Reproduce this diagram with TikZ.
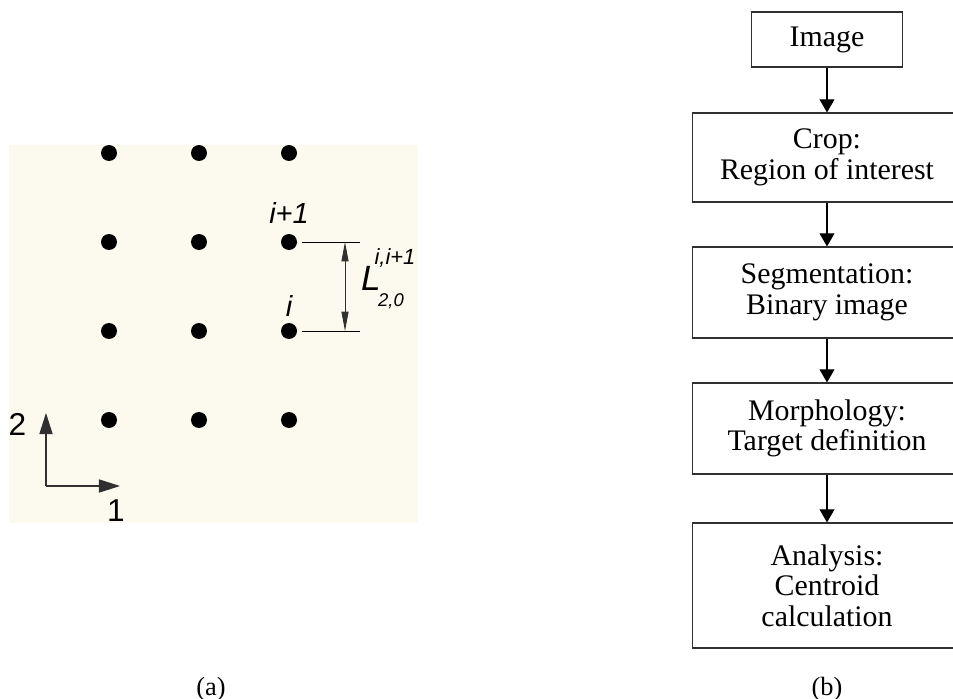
\documentclass[tikz,border=0pt]{standalone}
\usepackage{fontspec}
\setmainfont{Liberation Serif}
\setsansfont{Liberation Sans}
\usetikzlibrary{positioning,arrows.meta}
\definecolor{plateBg}{HTML}{FCFAEF}
\definecolor{lineGray}{HTML}{303030}

\begin{document}
\begin{tikzpicture}[x=0.02cm, y=-0.02cm,
    step box/.style={draw=lineGray, line width=0.6pt, align=center, inner sep=2pt, font=\fontsize{17}{17.4}\selectfont},
    flow/.style={-{Triangle[length=7.5pt, width=8.5pt]}, line width=0.6pt},
    dot/.style={circle, fill=black, inner sep=0pt, minimum size=0.32cm},
    dim/.style={{Triangle[length=11pt, width=4pt]}-{Triangle[length=11pt, width=4pt]}, line width=0.5pt, lineGray},
    axis/.style={-{Triangle[length=12pt, width=7.5pt]}, line width=0.6pt, lineGray},
    lab/.style={font=\sffamily\itshape\fontsize{16.5}{18}\selectfont, inner sep=0pt},
    caption/.style={font=\fontsize{15}{16}\selectfont, inner sep=0pt}
]
    \clip (0,0) rectangle (953,699);

    % (a) target grid
    \fill[plateBg] (9,145) rectangle (418,523);
    \foreach \c/\x in {1/109, 2/199, 3/289}
        \foreach \r/\y in {1/153, 2/242, 3/331, 4/420}
            \node[dot] (d\c\r) at (\x,\y) {};

    \node[lab] (lup) at (289,213) {i+1};
    \node[lab] (llo) at (289,306) {i};

    % spacing dimension
    \coordinate (ext1) at (360,242);
    \coordinate (ext2) at (360,331);
    \coordinate (dtop) at (345,242);
    \coordinate (dbot) at (345,331);
    \draw[line width=0.5pt] ([xshift=0.1cm]d32.east) -- (ext1);
    \draw[line width=0.5pt] ([xshift=0.1cm]d33.east) -- (ext2);
    \draw[dim] (dtop) -- (dbot);
    \node[font=\sffamily\itshape\fontsize{20}{22}\selectfont, inner sep=0pt] (len) at (371,278) {L};
    \node[font=\sffamily\itshape\fontsize{12.5}{14}\selectfont, inner sep=0pt] (sup) at (395,258) {i,i+1};
    \node[font=\sffamily\itshape\fontsize{10.5}{12}\selectfont, inner sep=0pt] (sub) at (391,301) {2,0};

    % axes
    \coordinate (orig) at (46,486);
    \coordinate (ax2) at (46,413);
    \coordinate (ax1) at (120,486);
    \draw[axis] (orig) -- (ax2);
    \draw[axis] (orig) -- (ax1);
    \node[font=\sffamily\fontsize{18}{20}\selectfont, inner sep=0pt] (n2) at (17.5,424) {2};
    \node[font=\sffamily\fontsize{18}{20}\selectfont, inner sep=0pt] (n1) at (116,511) {1};

    % (b) processing chain
    \node[step box, minimum width=3.02cm, minimum height=1.1cm] (img) at (827,39.5) {Image};
    \node[step box, minimum width=5.4cm, minimum height=1.78cm] (crop) at (827,157.5) {Crop:\\Region of interest};
    \node[step box, minimum width=5.4cm, minimum height=1.82cm] (seg) at (827,292.5) {Segmentation:\\Binary image};
    \node[step box, minimum width=5.4cm, minimum height=1.82cm] (morph) at (827,428.5) {Morphology:\\Target definition};
    \node[step box, minimum width=5.4cm, minimum height=2.5cm] (ana) at (827,585.5) {Analysis:\\Centroid\\calculation};

    \draw[flow] (img) -- (crop);
    \draw[flow] (crop) -- (seg);
    \draw[flow] (seg) -- (morph);
    \draw[flow] (morph) -- (ana);

    % captions
    \node[caption] (capa) at (211,689) {(a)};
    \node[caption] (capb) at (827,689) {(b)};
\end{tikzpicture}
\end{document}
